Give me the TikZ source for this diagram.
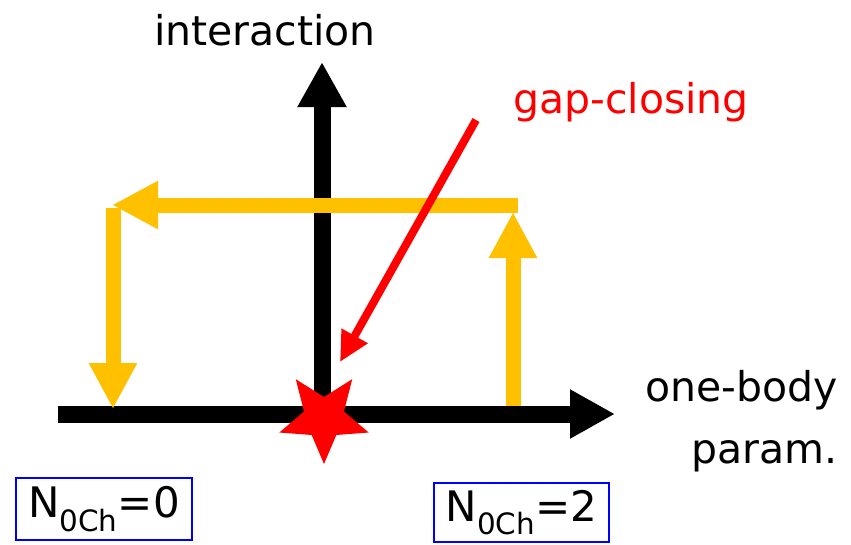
\documentclass[tikz,border=0pt]{standalone}
\usepackage{fontspec}
\setmainfont{DejaVu Sans}
\usetikzlibrary{arrows.meta}
\definecolor{amber}{RGB}{255,192,0}
\tikzset{
  axis/.style={line width=17pt, -{Triangle[length=45pt,width=46pt]}},
  flow/.style={line width=15pt, amber, -{Triangle[length=46pt,width=45pt]}},
  label/.style={font=\fontsize{41}{50}\selectfont, inner sep=0pt},
  countbox/.style={draw=blue, line width=2pt, inner sep=0pt, font=\fontsize{42}{50}\selectfont}
}
\begin{document}
\begin{tikzpicture}[x=1pt,y=-1pt]
                \useasboundingbox (0,0) rectangle (851,544);
                % Axes
                \coordinate (O) at (322,414);
                \coordinate (xstart) at (58,414);
                \coordinate (xend) at (615,414);
                \coordinate (yend) at (322,62);
                \draw[axis] (xstart) -- (xend);
                \draw[axis] (O) -- (yend);
                \node[label] (ylab) at (265,30) {interaction};
                \node[label, align=right, anchor=north east, font=\fontsize{41}{62}\selectfont] (xlab) at (838,370) {one-body\\param.};

                % Yellow loop
                \coordinate (r0) at (513,406);
                \coordinate (r1) at (513,212);
                \coordinate (t0) at (518,205);
                \coordinate (t1) at (112,205);
                \coordinate (l0) at (113,208);
                \coordinate (l1) at (113,409);
                \draw[flow] (r0) -- (r1);
                \draw[flow] (t0) -- (t1);
                \draw[flow] (l0) -- (l1);

                % Gap closing point
                \coordinate (gap) at (324,418);
                \fill[red, shift={(gap)}] (90:46) -- (126:21) -- (162:47) -- (198:21) -- (234:48)
                  -- (270:21) -- (306:48) -- (342:21) -- (18:47) -- (54:21) -- cycle;
                \node[label, red] (gaplab) at (631,102) {gap-closing};
                \coordinate (g0) at (476,120);
                \coordinate (g1) at (340,362);
                \draw[line width=8pt, red, -{Triangle[length=30pt,width=28pt]}] (g0) -- (g1);

                % Boxes
                \node[countbox, minimum width=176pt, minimum height=62pt] (n0) at (104,509) {N\textsubscript{0Ch}=0};
                \node[countbox, minimum width=175pt, minimum height=59pt] (n2) at (521.5,512.5) {N\textsubscript{0Ch}=2};
            \end{tikzpicture}
\end{document}
